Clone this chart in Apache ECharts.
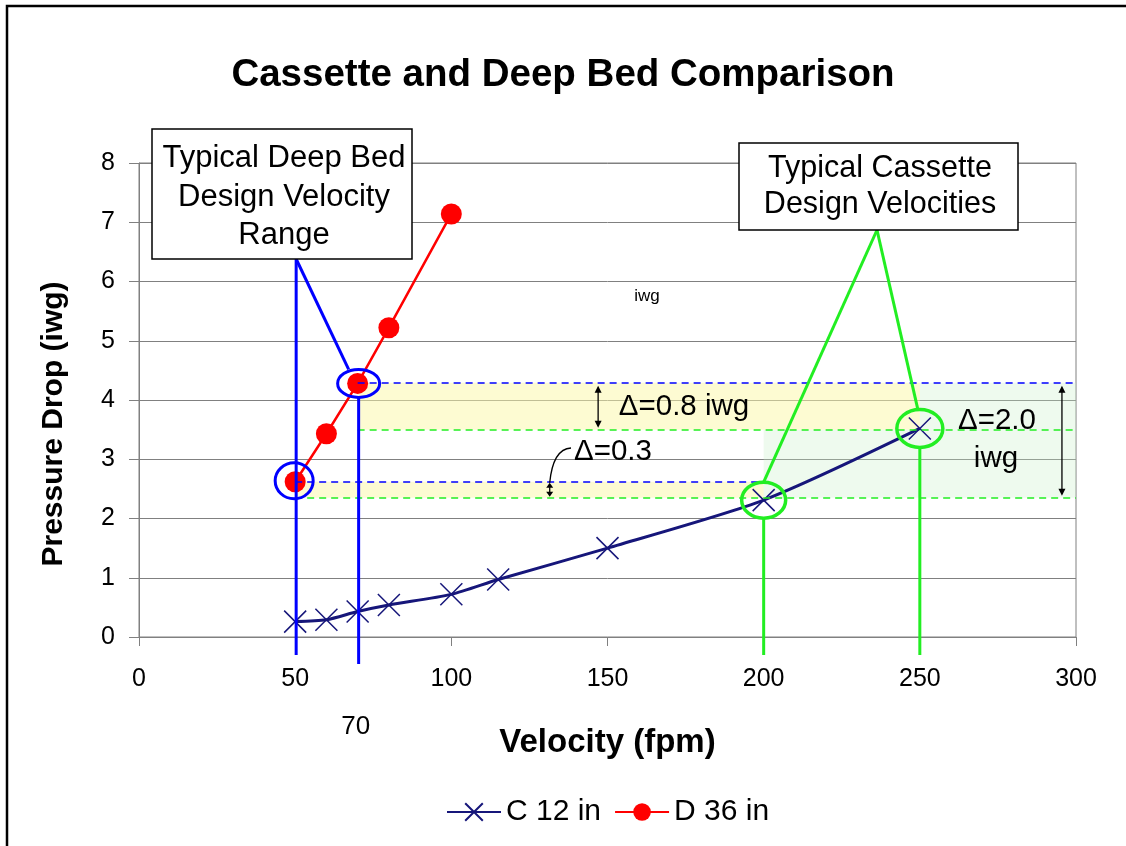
<!DOCTYPE html>
<html><head><meta charset="utf-8">
<script src="https://cdn.jsdelivr.net/npm/echarts@6/dist/echarts.min.js"></script>
<style>html,body{margin:0;padding:0;background:#fff}#c{width:1126px;height:846px}</style>
</head><body><div id="c"></div>
<script>
// ---- data ----
const cassetteVelocity = [50, 60, 70, 80, 100, 115, 150, 200, 250];
const cassetteDrop     = [0.26, 0.29, 0.43, 0.54, 0.72, 0.97, 1.50, 2.31, 3.52];
const deepVelocity     = [50, 60, 70, 80, 100];
const deepDrop         = [2.62, 3.43, 4.28, 5.22, 7.14];
const seriesNames      = ['C 12 in', 'D 36 in'];
// annotation levels / ranges
const deepRange     = [50, 70];
const cassetteRange = [200, 250];
const deepLevels     = [2.62, 4.29];
const cassetteLevels = [2.35, 3.5];
const arrowX        = [147, 131.5, 295.5];

const FONT = '"Liberation Sans", Arial, sans-serif';
const NAVY = '#16167a';
const RED = '#ff0000';
const BLUE = '#0000ff';
const GREEN = '#22ee22';
const X_PATH = 'path://M0,0L20,20M20,0L0,20';

const chart = echarts.init(document.getElementById('c'));

const cData = cassetteVelocity.map((v, i) => [v, cassetteDrop[i]]);
const dData = deepVelocity.map((v, i) => [v, deepDrop[i]]);

const option = {
  animation: false,
  backgroundColor: '#fff',
  title: {
    text: 'Cassette and Deep Bed Comparison', left: 'center', top: 51,
    textStyle: { fontFamily: FONT, fontSize: 38.5, fontWeight: 'bold', color: '#000' }
  },
  grid: { left: 139, right: 50, top: 163, bottom: 209, show: true, borderColor: '#808080', borderWidth: 1 },
  legend: {
    data: seriesNames, top: 792, left: 441, itemWidth: 54, itemHeight: 22, itemGap: 13,
    textStyle: { fontFamily: FONT, fontSize: 30, color: '#000' }
  },
  xAxis: {
    type: 'value', min: 0, max: 300, interval: 50,
    name: 'Velocity (fpm)', nameLocation: 'middle', nameGap: 89,
    nameTextStyle: { fontFamily: FONT, fontSize: 33, fontWeight: 'bold', color: '#000', verticalAlign: 'top' },
    axisLine: { show: true, lineStyle: { color: '#808080', width: 1 } },
    axisTick: { show: true, inside: false, length: 9, lineStyle: { color: '#808080' } },
    axisLabel: { fontFamily: FONT, fontSize: 25, color: '#000', margin: 30 },
    splitLine: { show: false }
  },
  yAxis: {
    type: 'value', min: 0, max: 8, interval: 1,
    name: 'Pressure Drop (iwg)', nameLocation: 'middle', nameGap: 70,
    nameTextStyle: { fontFamily: FONT, fontSize: 30, fontWeight: 'bold', color: '#000', padding: [0, 48, 0, 0] },
    axisLine: { show: true, lineStyle: { color: '#808080', width: 1 } },
    axisTick: { show: true, inside: false, length: 10, lineStyle: { color: '#808080' } },
    axisLabel: { fontFamily: FONT, fontSize: 25, color: '#000', margin: 24 },
    splitLine: { show: true, lineStyle: { color: '#808080', width: 1 } }
  },
  series: [
    {
      name: seriesNames[0], type: 'line', data: cData, z: 3,
      smooth: 0.25,
      symbol: X_PATH, symbolSize: 22, showAllSymbol: true,
      lineStyle: { color: NAVY, width: 3 },
      itemStyle: { color: NAVY, borderColor: NAVY, borderWidth: 1.5 }
    },
    {
      name: seriesNames[1], type: 'line', data: dData, z: 3,
      symbol: 'circle', symbolSize: 21,
      lineStyle: { color: RED, width: 2.5 },
      itemStyle: { color: RED }
    },
    {
      name: 'shade', type: 'line', data: [], z: 4, silent: true,
      markArea: {
        silent: true,
        data: [
          [{ coord: [deepRange[1], deepLevels[1]], itemStyle: { color: 'rgba(251,247,168,0.52)' } }, { coord: [cassetteRange[1], cassetteLevels[1]] }],
          [{ coord: [deepRange[0], deepLevels[0]], itemStyle: { color: 'rgba(251,247,168,0.52)' } }, { coord: [cassetteRange[0], cassetteLevels[0]] }],
          [{ coord: [cassetteRange[0], cassetteLevels[1]], itemStyle: { color: 'rgba(200,240,200,0.3)' } }, { coord: [cassetteRange[1], cassetteLevels[0]] }],
          [{ coord: [cassetteRange[1], deepLevels[1]], itemStyle: { color: 'rgba(200,240,200,0.3)' } }, { coord: [300, cassetteLevels[0]] }]
        ]
      }
    },
    {
      name: 'levels', type: 'line', data: [], z: 5, silent: true,
      markLine: {
        silent: true, symbol: 'none', label: { show: false },
        data: [
          [{ coord: [deepRange[1], deepLevels[1]], lineStyle: { color: BLUE, type: [7, 5], width: 1.5 } }, { coord: [300, deepLevels[1]] }],
          [{ coord: [deepRange[1], cassetteLevels[1]], lineStyle: { color: GREEN, type: [7, 5], width: 1.5 } }, { coord: [300, cassetteLevels[1]] }],
          [{ coord: [deepRange[0], deepLevels[0]], lineStyle: { color: BLUE, type: [7, 5], width: 1.5 } }, { coord: [cassetteRange[0], deepLevels[0]] }],
          [{ coord: [deepRange[0], cassetteLevels[0]], lineStyle: { color: GREEN, type: [7, 5], width: 1.5 } }, { coord: [300, cassetteLevels[0]] }]
        ]
      }
    }
  ]
};
chart.setOption(option);

function px(x, y) { return chart.convertToPixel({ gridIndex: 0 }, [x, y]); }

function txt(x, y, text, size, opts) {
  return Object.assign({
    type: 'text', x: x, y: y, z: 120,
    style: { text: text, fontFamily: FONT, fontSize: size, fill: '#000', align: 'center', verticalAlign: 'middle' }
  }, opts || {});
}
function line(x1, y1, x2, y2, color, w) {
  return { type: 'line', z: 110, shape: { x1, y1, x2, y2 }, style: { stroke: color, lineWidth: w } };
}
function dblArrow(x, y1, y2, head) {
  const h = head || 7, w = 3.5;
  return [
    line(x, y1 + 2, x, y2 - 2, '#000', 1.3),
    { type: 'polygon', z: 111, shape: { points: [[x, y1], [x - w, y1 + h], [x + w, y1 + h]] }, style: { fill: '#000' } },
    { type: 'polygon', z: 111, shape: { points: [[x, y2], [x - w, y2 - h], [x + w, y2 - h]] }, style: { fill: '#000' } }
  ];
}

const g = [];
// outer frame
g.push({ type: 'rect', z: 130, shape: { x: 7, y: 6, width: 1300, height: 1000 }, style: { fill: 'none', stroke: '#000', lineWidth: 2.5 } });

const d50 = px(deepRange[0], deepDrop[0]);
const d70 = px(deepRange[1], deepDrop[2]);
const c200 = px(cassetteRange[0], cassetteDrop[7]);
const c250 = px(cassetteRange[1], cassetteDrop[8]);
const yAxis0 = px(0, 0)[1];

g.push({ type: 'ellipse', z: 112, shape: { cx: d50[0] - 1, cy: d50[1] - 1, rx: 19, ry: 18 }, style: { fill: 'none', stroke: BLUE, lineWidth: 3 } });
g.push({ type: 'ellipse', z: 112, shape: { cx: d70[0] + 1, cy: d70[1], rx: 21, ry: 14 }, style: { fill: 'none', stroke: BLUE, lineWidth: 3 } });
g.push(line(d50[0] + 1, 259, d50[0] + 1, yAxis0 + 18, BLUE, 3));
g.push(line(d50[0] + 1, 259, d70[0] - 9, d70[1] - 14, BLUE, 3));
g.push(line(d70[0] + 1, d70[1] + 14, d70[0] + 1, yAxis0 + 27, BLUE, 3));

g.push({ type: 'ellipse', z: 112, shape: { cx: c200[0], cy: c200[1], rx: 22, ry: 18 }, style: { fill: 'none', stroke: GREEN, lineWidth: 3.5 } });
g.push({ type: 'ellipse', z: 112, shape: { cx: c250[0], cy: c250[1], rx: 23, ry: 19 }, style: { fill: 'none', stroke: GREEN, lineWidth: 3.5 } });
g.push(line(877, 230, c200[0], c200[1] - 18, GREEN, 3));
g.push(line(877, 230, c250[0] - 2, c250[1] - 19, GREEN, 3));
g.push(line(c200[0], c200[1] + 18, c200[0], yAxis0 + 18, GREEN, 3));
g.push(line(c250[0], c250[1] + 19, c250[0], yAxis0 + 18, GREEN, 3));

// label boxes
g.push({ type: 'rect', z: 115, shape: { x: 152, y: 129, width: 260, height: 130 }, style: { fill: '#fff', stroke: '#000', lineWidth: 1.5 } });
g.push(txt(284, 158, 'Typical Deep Bed', 31));
g.push(txt(284, 197, 'Design Velocity', 31));
g.push(txt(284, 235, 'Range', 31));
g.push({ type: 'rect', z: 115, shape: { x: 739, y: 143, width: 279, height: 87 }, style: { fill: '#fff', stroke: '#000', lineWidth: 1.5 } });
g.push(txt(880, 169, 'Typical Cassette', 30.5));
g.push(txt(880, 205, 'Design Velocities', 30.5));

// delta arrows and texts
const a1 = px(arrowX[0], 0)[0], a2 = px(arrowX[1], 0)[0], a3 = px(arrowX[2], 0)[0];
const yDH = px(0, deepLevels[1])[1], yCH = px(0, cassetteLevels[1])[1];
const yDL = px(0, deepLevels[0])[1], yCL = px(0, cassetteLevels[0])[1];
g.push(...dblArrow(a1, yDH + 3, yCH - 2));
g.push(...dblArrow(a3, yDH + 3, yCL - 2));
g.push(...dblArrow(a2, yDL + 1, yCL - 1, 5));
g.push({ type: 'bezierCurve', z: 110, shape: { x1: 571, y1: 448, cpx1: 553, cpy1: 449, x2: a2, y2: yDL + 1 }, style: { stroke: '#000', lineWidth: 1.3, fill: 'none' } });
g.push(txt(684, 407, '\u0394=0.8 iwg', 29.5));
g.push(txt(613, 452, '\u0394=0.3', 29.5));
g.push(txt(997, 421, '\u0394=2.0', 29.5));
g.push(txt(996, 459, 'iwg', 29.5));
g.push(txt(647, 296, 'iwg', 17));
g.push(txt(d70[0] - 2, 727, String(deepRange[1]), 26));

chart.setOption({ graphic: { elements: g } });
</script>
</body></html>
